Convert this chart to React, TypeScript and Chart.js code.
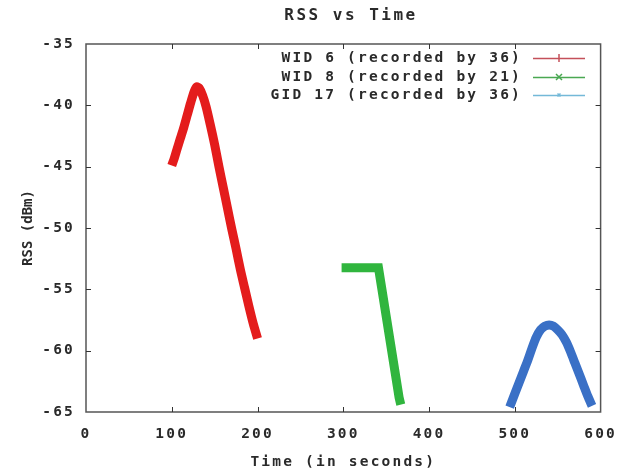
import React, { useEffect, useRef } from 'react';
import { Chart, registerables } from 'chart.js';

Chart.register(...registerables);

// ---- data ----
const wid6Time = [100, 103, 106, 110, 114, 118, 122, 126, 129, 132, 136, 140, 145, 150, 155, 160, 165, 170, 175, 180, 185, 190, 195, 200];
const wid6Rss = [-44.9, -44.3, -43.6, -42.7, -41.8, -40.8, -39.8, -38.9, -38.5, -38.6, -39.2, -40.1, -41.6, -43.2, -45.0, -46.7, -48.4, -50.1, -51.7, -53.4, -54.9, -56.4, -57.8, -59.0];

const wid8Time = [298, 305, 315, 325, 335, 341, 345, 350, 355, 360, 365, 367];
const wid8Rss = [-53.25, -53.25, -53.25, -53.25, -53.25, -53.25, -55.0, -57.2, -59.4, -61.6, -63.8, -64.4];

const gid17Time = [494, 500, 505, 510, 515, 520, 525, 530, 535, 540, 545, 550, 555, 560, 565, 570, 575, 580, 585, 590];
const gid17Rss = [-64.6, -63.5, -62.6, -61.7, -60.8, -59.8, -58.9, -58.3, -58.0, -57.9, -58.0, -58.3, -58.7, -59.3, -60.1, -61.0, -61.9, -62.8, -63.7, -64.5];

const seriesLabels = ['WID 6 (recorded by 36)', 'WID 8 (recorded by 21)', 'GID 17 (recorded by 36)'];
const bandColors = ['#e41c1c', '#30b53e', '#3a70c6'];
const bandTension = [0.25, 0, 0.25];
const legendLineColors = ['#c4505a', '#4aa852', '#74b9d8'];
const legendMarkers = ['+', 'x', '*'];

const xMin = 0;
const xMax = 600;
const xStep = 100;
const yMin = -65;
const yMax = -35;
const yStep = 5;

const titleText = 'RSS vs Time';
const xTitle = 'Time (in seconds)';
const yTitle = 'RSS (dBm)';

const FONT = '"DejaVu Sans Mono", monospace';
const TEXT = '#2a2a2a';
const SPACING = '2.2px';
const FS = 14.5;

const toPoints = (xs: number[], ys: number[]) => xs.map((x, i) => ({ x, y: ys[i] }));

const spacingPlugin = {
  id: 'spacing',
  beforeUpdate(chart: any) { chart.ctx.letterSpacing = SPACING; },
  beforeLayout(chart: any) { chart.ctx.letterSpacing = SPACING; },
  beforeDraw(chart: any) { chart.ctx.letterSpacing = SPACING; },
};

const framePlugin = {
  id: 'frame',
  beforeDatasetsDraw(chart: any) {
    const { ctx, chartArea: a, scales } = chart;
    ctx.save();
    ctx.strokeStyle = '#555';
    ctx.lineWidth = 1.5;
    ctx.strokeRect(a.left, a.top, a.right - a.left, a.bottom - a.top);
    ctx.strokeStyle = '#333';
    ctx.lineWidth = 1;
    const len = 5;
    for (let v = xMin + xStep; v < xMax; v += xStep) {
      const px = Math.round(scales.x.getPixelForValue(v)) + 0.5;
      ctx.beginPath();
      ctx.moveTo(px, a.bottom); ctx.lineTo(px, a.bottom - len);
      ctx.moveTo(px, a.top); ctx.lineTo(px, a.top + len);
      ctx.stroke();
    }
    for (let v = yMin + yStep; v < yMax; v += yStep) {
      const py = Math.round(scales.y.getPixelForValue(v)) + 0.5;
      ctx.beginPath();
      ctx.moveTo(a.left, py); ctx.lineTo(a.left + len, py);
      ctx.moveTo(a.right, py); ctx.lineTo(a.right - len, py);
      ctx.stroke();
    }
    ctx.restore();
  },
  afterDraw(chart: any) {
    const { ctx, chartArea: a } = chart;
    // chart title
    ctx.save();
    ctx.letterSpacing = '2.5px';
    ctx.font = `bold 16px ${FONT}`;
    ctx.fillStyle = TEXT;
    ctx.textAlign = 'center';
    ctx.textBaseline = 'middle';
    ctx.fillText(titleText, 351, 16);
    ctx.restore();

    // y-axis title
    ctx.save();
    ctx.letterSpacing = '0px';
    ctx.font = `bold 14px ${FONT}`;
    ctx.fillStyle = TEXT;
    ctx.textAlign = 'center';
    ctx.textBaseline = 'middle';
    ctx.translate(28, (a.top + a.bottom) / 2);
    ctx.rotate(-Math.PI / 2);
    ctx.fillText(yTitle, 0, 0);
    ctx.restore();

    // legend (gnuplot style: text right-aligned, sample line to the right)
    ctx.save();
    ctx.letterSpacing = SPACING;
    ctx.font = `bold ${FS}px ${FONT}`;
    ctx.textAlign = 'right';
    ctx.textBaseline = 'middle';
    const rows = [58, 77, 95];
    const textRight = 522;
    const lx0 = 533;
    const lx1 = 585;
    const mx = (lx0 + lx1) / 2;
    seriesLabels.forEach((label, i) => {
      const y = rows[i];
      ctx.fillStyle = TEXT;
      ctx.fillText(label, textRight, y);
      ctx.strokeStyle = legendLineColors[i];
      ctx.lineWidth = 1.5;
      ctx.beginPath();
      ctx.moveTo(lx0, y + 0.5); ctx.lineTo(lx1, y + 0.5);
      ctx.stroke();
      ctx.lineWidth = 1.5;
      ctx.beginPath();
      const m = legendMarkers[i];
      if (m === '+') {
        ctx.moveTo(mx, y - 4); ctx.lineTo(mx, y + 4);
      } else if (m === 'x') {
        ctx.moveTo(mx - 3, y - 3); ctx.lineTo(mx + 3, y + 3);
        ctx.moveTo(mx - 3, y + 3); ctx.lineTo(mx + 3, y - 3);
      } else {
        ctx.moveTo(mx - 1.5, y - 1.5); ctx.lineTo(mx + 1.5, y + 1.5);
        ctx.moveTo(mx - 1.5, y + 1.5); ctx.lineTo(mx + 1.5, y - 1.5);
      }
      ctx.stroke();
    });
    ctx.restore();
  },
};

export default function App() {
  const ref = useRef<HTMLCanvasElement>(null);

  useEffect(() => {
    const canvas = ref.current;
    if (!canvas) return;
    const datasets = [
      toPoints(wid6Time, wid6Rss),
      toPoints(wid8Time, wid8Rss),
      toPoints(gid17Time, gid17Rss),
    ].map((data, i) => ({
      label: seriesLabels[i],
      data,
      borderColor: bandColors[i],
      backgroundColor: bandColors[i],
      borderWidth: 9,
      pointRadius: 0,
      tension: bandTension[i],
      borderJoinStyle: 'miter' as const,
      borderCapStyle: 'butt' as const,
      clip: 0,
    }));

    const chart = new Chart(canvas, {
      type: 'line',
      data: { datasets },
      plugins: [spacingPlugin, framePlugin],
      options: {
        animation: false,
        responsive: false,
        devicePixelRatio: 1,
        layout: { padding: { left: 0, right: 24, top: 44, bottom: 0 } },
        plugins: {
          legend: { display: false },
          tooltip: { enabled: false },
          title: { display: false },
        },
        scales: {
          x: {
            type: 'linear',
            min: xMin,
            max: xMax,
            ticks: {
              stepSize: xStep,
              padding: 14,
              color: TEXT,
              font: { family: FONT, size: FS, weight: 'bold' },
              maxRotation: 0,
            },
            grid: { display: false, drawTicks: false },
            border: { display: false },
            title: {
              display: true,
              text: xTitle,
              color: TEXT,
              font: { family: FONT, size: FS, weight: 'bold' },
              padding: { top: 0, bottom: 0 },
            },
            afterFit(scale: any) { scale.height = 59; },
          },
          y: {
            type: 'linear',
            min: yMin,
            max: yMax,
            ticks: {
              stepSize: yStep,
              padding: 11,
              color: TEXT,
              font: { family: FONT, size: FS, weight: 'bold' },
            },
            grid: { display: false, drawTicks: false },
            border: { display: false },
            afterFit(scale: any) { scale.width = 86; },
          },
        },
      },
    } as any);
    return () => chart.destroy();
  }, []);

  return (
    <div style={{ position: 'fixed', left: 0, top: 0, width: 631, height: 471, background: '#fff' }}>
      <canvas ref={ref} width={631} height={471} style={{ display: 'block', width: 631, height: 471 }} />
    </div>
  );
}
